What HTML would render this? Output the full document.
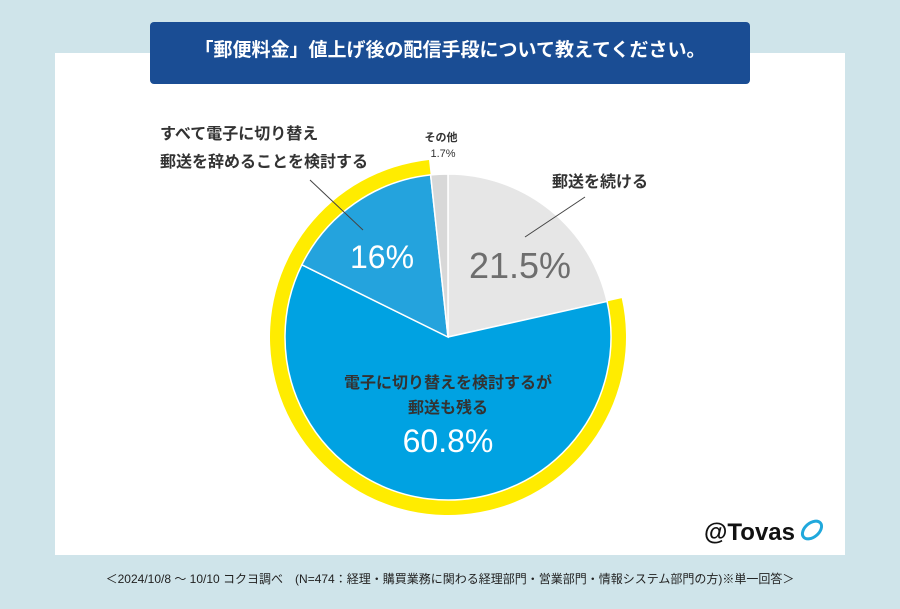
<!DOCTYPE html>
<html><head><meta charset="utf-8"><style>
body{margin:0;width:900px;height:609px;background:#cfe4ea;position:relative;overflow:hidden;font-family:"Liberation Sans","Noto Sans CJK JP",sans-serif}
#panel{position:absolute;left:55px;top:53px;width:790px;height:502px;background:#fff}
#title{position:absolute;left:150px;top:22px;width:600px;height:62px;background:#1a4d94;border-radius:4px;color:#fff;font-size:19px;font-weight:bold;text-align:center;line-height:58px}
#foot{position:absolute;left:0;width:900px;top:570px;text-align:center;font-size:12px;color:#222}
svg{position:absolute;left:0;top:0}
</style></head><body>
<div id="panel"></div>
<div id="title">「郵便料金」値上げ後の配信手段について教えてください。</div>
<svg id="chart" width="900" height="609"></svg>
<div id="foot">＜2024/10/8 ～ 10/10 コクヨ調べ　(N=474：経理・購買業務に関わる経理部門・営業部門・情報システム部門の方)※単一回答＞</div>
<script>
const categories=["郵送を続ける","電子に切り替えを検討するが郵送も残る","すべて電子に切り替え郵送を辞めることを検討する","その他"];
const values=[21.5,60.8,16,1.7];
const colors=["#e6e6e6","#00a2e2","#24a3dd","#d8d8d8"];
const highlighted=[1,2];
const svg=document.getElementById('chart');
const NS='http://www.w3.org/2000/svg';
const cx=448,cy=337,r=163,R1=164,R2=178;
const total=values.reduce((a,b)=>a+b,0);
function ang(v){return v/total*2*Math.PI;}
function pt(a,rad){return [cx+rad*Math.sin(a),cy-rad*Math.cos(a)];}
function mk(tag,attrs){const e=document.createElementNS(NS,tag);for(const k in attrs)e.setAttribute(k,attrs[k]);svg.appendChild(e);return e;}
let cum=0;const starts=[];
values.forEach(v=>{starts.push(cum);cum+=v;});
let hs=starts[highlighted[0]],he=starts[highlighted[highlighted.length-1]]+values[highlighted[highlighted.length-1]];
{const a0=ang(hs),a1=ang(he);const p0=pt(a0,R2),p1=pt(a1,R2),q1=pt(a1,R1-2),q0=pt(a0,R1-2);
const large=(a1-a0)>Math.PI?1:0;
const ring=mk('path',{d:`M${p0} A${R2},${R2} 0 ${large} 1 ${p1} L${q1} A${R1-2},${R1-2} 0 ${large} 0 ${q0}Z`,fill:'#ffec00'});

}
values.forEach((v,i)=>{const a0=ang(starts[i]),a1=ang(starts[i]+v);const p0=pt(a0,r),p1=pt(a1,r);
const large=(a1-a0)>Math.PI?1:0;
const s=mk('path',{d:`M${cx},${cy} L${p0} A${r},${r} 0 ${large} 1 ${p1}Z`,fill:colors[i],stroke:'#fff','stroke-width':1.5});

});
function txt(x,y,t,size,fill,w,name,anchor){const e=mk('text',{x:x,y:y,'font-size':size,fill:fill,'font-weight':w,'text-anchor':anchor||'middle'});e.textContent=t;

return e;}
txt(520,278,values[0]+'%',36,'#6e6e6e','normal','value-label-0');
txt(382,268,values[2]+'%',32,'#fff','normal','value-label-2');
txt(448,388,'電子に切り替えを検討するが',16,'#333','bold','category-label-1a');
txt(448,413,'郵送も残る',16,'#333','bold','category-label-1b');
txt(448,452,values[1]+'%',32,'#fff','normal','value-label-1');
txt(552,187,'郵送を続ける',16,'#333','bold','category-label-0','start');
txt(160,139,'すべて電子に切り替え',16,'#333','bold','category-label-2a','start');
txt(160,167,'郵送を辞めることを検討する',16,'#333','bold','category-label-2b','start');
txt(441,141,categories[3],11,'#333','bold','category-label-3');
txt(443,157,values[3]+'%',11,'#333','normal','value-label-3');
function ln(x1,y1,x2,y2,n){const l=mk('line',{x1,y1,x2,y2,stroke:'#444','stroke-width':1});}
ln(585,197,525,237,'leader-0');ln(310,180,363,230,'leader-2');
txt(795,540,'@Tovas',24,'#111','bold','brand-logo','end');
const e1=mk('ellipse',{cx:812,cy:530,rx:11,ry:7,fill:'none',stroke:'#20a8dc','stroke-width':3,transform:'rotate(-40 812 530)'});


</script>
</body></html>
